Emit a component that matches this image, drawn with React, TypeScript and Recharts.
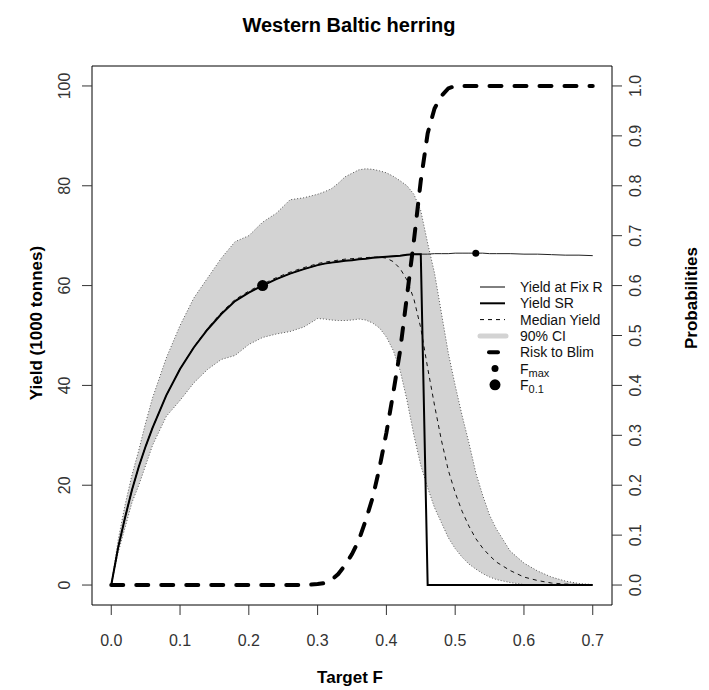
import React from 'react';
import { ComposedChart, Line, Area, Scatter, XAxis, YAxis, ReferenceArea, Legend, Label } from 'recharts';

const FONT = '"Liberation Sans", Arial, sans-serif';

// target F grid
const F = [0, 0.01, 0.02, 0.03, 0.04, 0.05, 0.06,
  0.08, 0.1, 0.12, 0.14, 0.16, 0.18, 0.2, 0.22, 0.24, 0.26, 0.28,
  0.3, 0.31, 0.32, 0.33, 0.34, 0.35, 0.36, 0.37, 0.38, 0.39, 0.4, 0.41, 0.42, 0.43, 0.44, 0.45, 0.46, 0.47, 0.48, 0.49, 0.5, 0.51, 0.52, 0.53, 0.54, 0.55, 0.56,
  0.58, 0.6, 0.62, 0.64, 0.66, 0.68, 0.7];

const YIELD_SR = [0, 7.5, 13.5, 19, 23.7, 27.8, 31.5,
  38, 43.3, 47.6, 51.2, 54.3, 56.9, 58.6, 60, 61.3, 62.4, 63.3,
  64.1, 64.4, 64.6, 64.8, 65.0, 65.1, 65.3, 65.4, 65.6, 65.7, 65.8, 65.9, 66.0, 66.2, 66.3, 66.3, 0, 0, 0, 0, 0, 0, 0, 0, 0, 0, 0,
  0, 0, 0, 0, 0, 0, 0];

const YIELD_FIXR = [0, 7.5, 13.5, 19, 23.7, 27.8, 31.5,
  38, 43.3, 47.6, 51.2, 54.3, 56.9, 58.6, 60, 61.3, 62.4, 63.3,
  64.1, 64.4, 64.6, 64.8, 65.0, 65.1, 65.3, 65.4, 65.6, 65.7, 65.8, 65.9, 66.0, 66.2, 66.3, 66.3, 66.3, 66.4, 66.4, 66.4, 66.5, 66.5, 66.5, 66.5, 66.5, 66.4, 66.4,
  66.4, 66.3, 66.3, 66.2, 66.1, 66.1, 66.0];

const MEDIAN = [0, 7.5, 13.5, 19, 23.7, 27.8, 31.5,
  38, 43.3, 47.7, 51.4, 54.6, 57.2, 58.9, 60.3, 61.6, 62.7, 63.6,
  64.4, 64.7, 64.9, 65.1, 65.3, 65.4, 65.5, 65.6, 65.7, 65.7, 65.5, 64.8, 63.4, 61.1, 57.3, 51.5, 43.5, 36, 29, 23, 18.5, 14.8, 11.8, 9.3, 7.4, 5.9, 4.6,
  2.9, 1.6, 0.9, 0.4, 0.2, 0.1, 0.05];

const CI_UPPER = [0, 9, 16, 22, 27, 32.5, 37.5,
  45.5, 52, 57.5, 61.5, 65.5, 68.8, 70, 72.7, 74.5, 77.2, 77.6,
  78.3, 78.8, 79.4, 80.5, 81.8, 82.5, 83.2, 83.4, 83.3, 83.0, 82.6, 81.9, 81.0, 80.0, 78.3, 75, 68.5, 62.5, 54.5, 46.5, 40, 34, 28.5, 22.5, 18, 14, 11.2,
  6.8, 4.4, 2.8, 1.6, 0.8, 0.3, 0.1];

const CI_LOWER = [0, 6.5, 11.5, 16.5, 20, 24, 28,
  33.8, 37, 40.5, 43.2, 45.2, 46, 48.2, 49.6, 50.3, 50.8, 51.7,
  53.4, 53.3, 53.1, 53, 53, 53.1, 53.3, 53.1, 52.5, 51.5, 49.7, 47, 43, 37, 30, 24, 19.5, 15.5, 12.5, 9.5, 7.3, 5.6, 4.2, 3.2, 2.3, 1.6, 1.1,
  0.5, 0.1, 0, 0, 0, 0, 0];

const RISK = [0, 0, 0, 0, 0, 0, 0,
  0, 0, 0, 0, 0, 0, 0, 0, 0, 0, 0,
  0.002, 0.004, 0.01, 0.022, 0.04, 0.062, 0.09, 0.13, 0.175, 0.235, 0.305, 0.385, 0.47, 0.58, 0.69, 0.81, 0.905, 0.955, 0.98, 0.995, 1, 1, 1, 1, 1, 1, 1,
  1, 1, 1, 1, 1, 1, 1];

const FMAX = [{ f: 0.53, y: 66.5 }];
const F01 = [{ f: 0.22, y: 60 }];

const X_TICKS = [0, 0.1, 0.2, 0.3, 0.4, 0.5, 0.6, 0.7];
const Y_TICKS = [0, 20, 40, 60, 80, 100];
const P_TICKS = [0, 0.1, 0.2, 0.3, 0.4, 0.5, 0.6, 0.7, 0.8, 0.9, 1.0];

const data = F.map((f, i) => ({
  f,
  sr: YIELD_SR[i],
  fixr: YIELD_FIXR[i],
  med: MEDIAN[i],
  lo: CI_LOWER[i],
  hi: CI_UPPER[i],
  band: [CI_LOWER[i], CI_UPPER[i]],
  risk: RISK[i],
}));

const LeftTick = (props: any) => {
  const { y, payload } = props;
  return (
    <text x={70} y={y} transform={`rotate(-90, 70, ${y})`} textAnchor="middle" fontSize={16} fill="#333" fontFamily={FONT}>
      {payload.value}
    </text>
  );
};

const RightTick = (props: any) => {
  const { y, payload } = props;
  return (
    <text x={641} y={y} transform={`rotate(-90, 641, ${y})`} textAnchor="middle" fontSize={16} fill="#333" fontFamily={FONT}>
      {Number(payload.value).toFixed(1)}
    </text>
  );
};

const BottomTick = (props: any) => {
  const { x, payload } = props;
  return (
    <text x={x} y={646} textAnchor="middle" fontSize={16} fill="#333" fontFamily={FONT}>
      {Number(payload.value).toFixed(1)}
    </text>
  );
};

const LegendBox = () => {
  const rowY = (i: number) => 10 + i * 16.3;
  const tx = 50;
  const txt = { fontSize: 14, fill: '#111', fontFamily: FONT, dominantBaseline: 'central' as const };
  return (
    <svg width={180} height={125}>
      <line x1={10} x2={35} y1={rowY(0)} y2={rowY(0)} stroke="#000" strokeWidth={1} />
      <text x={tx} y={rowY(0)} {...txt}>Yield at Fix R</text>
      <line x1={10} x2={35} y1={rowY(1)} y2={rowY(1)} stroke="#000" strokeWidth={2} />
      <text x={tx} y={rowY(1)} {...txt}>Yield SR</text>
      <line x1={10} x2={35} y1={rowY(2)} y2={rowY(2)} stroke="#000" strokeWidth={1} strokeDasharray="4 4" />
      <text x={tx} y={rowY(2)} {...txt}>Median Yield</text>
      <line x1={10} x2={36} y1={rowY(3)} y2={rowY(3)} stroke="#d3d3d3" strokeWidth={5} strokeLinecap="round" />
      <text x={tx} y={rowY(3)} {...txt}>90% CI</text>
      <line x1={19} x2={28} y1={rowY(4)} y2={rowY(4)} stroke="#000" strokeWidth={4} strokeLinecap="round" />
      <text x={tx} y={rowY(4)} {...txt}>Risk to Blim</text>
      <circle cx={25} cy={rowY(5)} r={3.5} fill="#000" />
      <text x={tx} y={rowY(5)} {...txt}>F<tspan fontSize={11} dy={4}>max</tspan></text>
      <circle cx={25} cy={rowY(6)} r={5.5} fill="#000" />
      <text x={tx} y={rowY(6)} {...txt}>F<tspan fontSize={11} dy={4}>0.1</tspan></text>
    </svg>
  );
};

const dot = (r: number) => (p: any) => <circle cx={p.cx} cy={p.cy} r={r} fill="#000" />;

export default function App() {
  return (
    <div style={{ position: 'absolute', left: 0, top: 0, width: 709, height: 690, background: '#fff' }}>
      <ComposedChart width={709} height={690} data={data} margin={{ top: 66, right: 0, bottom: 0, left: 0 }}>
        <XAxis
          dataKey="f"
          type="number"
          domain={[-0.028, 0.728]}
          ticks={X_TICKS}
          allowDataOverflow
          height={85}
          axisLine={false}
          tickLine={{ stroke: '#333' }}
          tickSize={10}
          tick={<BottomTick />}
        >
          <Label content={() => (
            <text x={350} y={683} textAnchor="middle" fontSize={17} fontWeight="bold" fill="#000" fontFamily={FONT}>Target F</text>
          )} />
          <Label content={() => (
            <text x={349} y={32} textAnchor="middle" fontSize={20} fontWeight="bold" fill="#000" fontFamily={FONT}>Western Baltic herring</text>
          )} />
        </XAxis>
        <YAxis
          yAxisId="left"
          orientation="left"
          type="number"
          domain={[-4, 104]}
          ticks={Y_TICKS}
          allowDataOverflow
          width={92}
          axisLine={false}
          tickLine={{ stroke: '#333' }}
          tickSize={10}
          tick={<LeftTick />}
        >
          <Label content={() => (
            <text x={42} y={323} transform="rotate(-90, 42, 323)" textAnchor="middle" fontSize={17} fontWeight="bold" fill="#000" fontFamily={FONT}>Yield (1000 tonnes)</text>
          )} />
        </YAxis>
        <YAxis
          yAxisId="right"
          orientation="right"
          type="number"
          domain={[-0.04, 1.04]}
          ticks={P_TICKS}
          allowDataOverflow
          width={97}
          axisLine={false}
          tickLine={{ stroke: '#333' }}
          tickSize={10}
          tick={<RightTick />}
        >
          <Label content={() => (
            <text x={697} y={298} transform="rotate(-90, 697, 298)" textAnchor="middle" fontSize={17} fontWeight="bold" fill="#000" fontFamily={FONT}>Probabilities</text>
          )} />
        </YAxis>

        <Area yAxisId="left" dataKey="band" type="linear" fill="#d3d3d3" fillOpacity={1} stroke="none" isAnimationActive={false} />
        <Line yAxisId="left" dataKey="hi" type="linear" stroke="#555" strokeWidth={1} strokeDasharray="1 2" dot={false} isAnimationActive={false} />
        <Line yAxisId="left" dataKey="lo" type="linear" stroke="#555" strokeWidth={1} strokeDasharray="1 2" dot={false} isAnimationActive={false} />
        <Line yAxisId="left" dataKey="fixr" type="linear" stroke="#222" strokeWidth={1} dot={false} isAnimationActive={false} />
        <Line yAxisId="left" dataKey="med" type="linear" stroke="#111" strokeWidth={1} strokeDasharray="4 4" dot={false} isAnimationActive={false} />
        <Line yAxisId="left" dataKey="sr" type="linear" stroke="#000" strokeWidth={2} dot={false} isAnimationActive={false} />
        <Line yAxisId="right" dataKey="risk" type="linear" stroke="#000" strokeWidth={4} strokeDasharray="12 13" strokeLinecap="round" dot={false} isAnimationActive={false} />
        <Scatter yAxisId="left" data={FMAX} dataKey="y" shape={dot(3.5)} isAnimationActive={false} />
        <Scatter yAxisId="left" data={F01} dataKey="y" shape={dot(5.5)} isAnimationActive={false} />

        <ReferenceArea yAxisId="left" x1={-0.028} x2={0.728} y1={-4} y2={104} fill="none" stroke="#000" strokeWidth={1} />
        <Legend
          layout="vertical"
          align="center"
          verticalAlign="middle"
          content={() => <LegendBox />}
          wrapperStyle={{ position: 'absolute', left: 470, top: 277, width: 180, height: 125 }}
        />
      </ComposedChart>
    </div>
  );
}
